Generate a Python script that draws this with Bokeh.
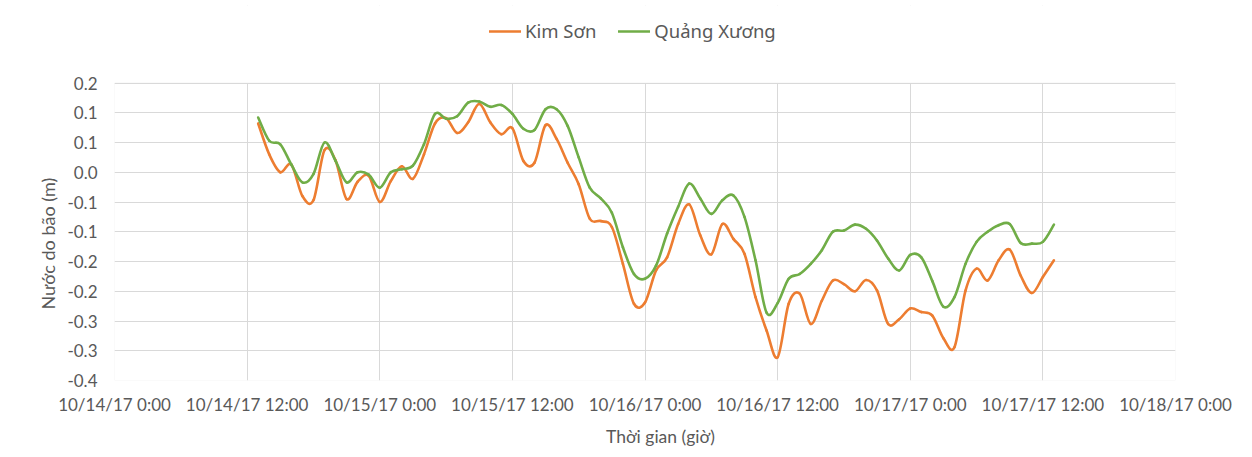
import numpy as np
import pandas as pd
from bokeh.plotting import figure
from bokeh.models import (FixedTicker, Legend, LegendItem, ColumnDataSource, Range1d,
                          BoxAnnotation)
from bokeh.embed import file_html
from bokeh.resources import INLINE

# ---------------- data (hourly) ----------------
times = pd.date_range("2017-10-14 13:00", periods=73, freq="h")

kim_son = [
    0.082, 0.030, 0.000, 0.013, -0.040, -0.047, 0.037, 0.020, -0.045, -0.016,
    -0.006, -0.050, -0.015, 0.010, -0.011, 0.030, 0.082, 0.091, 0.066, 0.084,
    0.115, 0.084, 0.064, 0.074, 0.019, 0.016, 0.079, 0.056, 0.016, -0.020,
    -0.078, -0.082, -0.092, -0.154, -0.221, -0.219, -0.165, -0.143, -0.087, -0.054,
    -0.106, -0.138, -0.087, -0.112, -0.137, -0.210, -0.266, -0.311, -0.221, -0.204,
    -0.255, -0.216, -0.182, -0.188, -0.200, -0.181, -0.199, -0.255, -0.247, -0.229,
    -0.235, -0.241, -0.279, -0.294, -0.199, -0.162, -0.182, -0.148, -0.130, -0.174,
    -0.203, -0.176, -0.148,
]

quang_xuong = [
    0.092, 0.053, 0.047, 0.013, -0.017, -0.003, 0.050, 0.019, -0.017, 0.000,
    -0.004, -0.026, 0.000, 0.005, 0.011, 0.047, 0.098, 0.090, 0.094, 0.117,
    0.119, 0.110, 0.113, 0.098, 0.073, 0.071, 0.106, 0.106, 0.078, 0.025,
    -0.026, -0.044, -0.068, -0.126, -0.171, -0.179, -0.157, -0.103, -0.058, -0.019,
    -0.044, -0.070, -0.047, -0.039, -0.075, -0.148, -0.236, -0.220, -0.179, -0.171,
    -0.154, -0.131, -0.100, -0.098, -0.088, -0.095, -0.115, -0.145, -0.165, -0.139,
    -0.143, -0.183, -0.226, -0.210, -0.154, -0.117, -0.100, -0.089, -0.087, -0.119,
    -0.120, -0.117, -0.088,
]

series_names = ["Kim Sơn", "Quảng Xương"]
series_colors = ["#ED7D31", "#70AD47"]

x_ticks = pd.date_range("2017-10-14 00:00", "2017-10-18 00:00", freq="12h")
x_tick_labels = [
    "10/14/17 0:00", "10/14/17 12:00", "10/15/17 0:00", "10/15/17 12:00",
    "10/16/17 0:00", "10/16/17 12:00", "10/17/17 0:00", "10/17/17 12:00",
    "10/18/17 0:00",
]
y_ticks = [0.15, 0.1, 0.05, 0.0, -0.05, -0.1, -0.15, -0.2, -0.25, -0.3, -0.35]
y_tick_labels = ["0.2", "0.1", "0.1", "0.0", "-0.1", "-0.1", "-0.2", "-0.2",
                 "-0.3", "-0.3", "-0.4"]

x_title = "Thời gian (giờ)"
y_title = "Nước do bão (m)"

# ---------------- helpers ----------------
def to_ms(ts):
    return np.array([t.timestamp() * 1000.0 for t in ts])


def smooth_segments(xs, ys):
    """Bezier segments through the data points (Excel-like smoothed line)."""
    xs = np.asarray(xs, float)
    ys = np.asarray(ys, float)
    n = len(xs)
    xp = np.concatenate([[xs[0]], xs, [xs[-1]]])
    yp = np.concatenate([[ys[0]], ys, [ys[-1]]])
    i = np.arange(n - 1)
    return dict(
        x0=xs[:-1], y0=ys[:-1], x1=xs[1:], y1=ys[1:],
        cx0=xp[i + 1] + (xp[i + 2] - xp[i]) / 6.0,
        cy0=yp[i + 1] + (yp[i + 2] - yp[i]) / 6.0,
        cx1=xp[i + 2] - (xp[i + 3] - xp[i + 1]) / 6.0,
        cy1=yp[i + 2] - (yp[i + 3] - yp[i + 1]) / 6.0,
    )


FONT = "Lato"
LEG_FONT = "Noto Sans"
TXT = "#595959"
GRID = "#D9D9D9"

# layout (pixels)
W, H = 1244, 449
TOP, LEFT, RIGHT = 5, 114, 69
PLOT_H = 297.5            # height of the value area (-0.35 .. 0.15)
FRAME_H = 375             # frame extends above the value area to hold the legend
BOTTOM = H - TOP - FRAME_H

xt_ms = to_ms(x_ticks)
t_ms = to_ms(times)

y_lo, y_hi = y_ticks[-1], y_ticks[0]
y_top = y_lo + (y_hi - y_lo) * FRAME_H / PLOT_H

p = figure(
    width=W, height=H,
    x_axis_type="datetime",
    x_range=Range1d(xt_ms[0], xt_ms[-1]),
    y_range=Range1d(y_lo, y_top),
    output_backend="svg", toolbar_location=None,
    min_border_left=LEFT, min_border_right=RIGHT,
    min_border_top=TOP, min_border_bottom=BOTTOM,
    background_fill_color="white", border_fill_color="white",
)
p.outline_line_color = None

# axes
p.xaxis.ticker = FixedTicker(ticks=list(xt_ms))
p.xaxis.major_label_overrides = {float(k): v for k, v in zip(xt_ms, x_tick_labels)}
p.yaxis.ticker = FixedTicker(ticks=y_ticks)
p.yaxis.major_label_overrides = {float(k): v for k, v in zip(y_ticks, y_tick_labels)}

for ax in (p.xaxis[0], p.yaxis[0]):
    ax.axis_line_color = None
    ax.major_tick_line_color = None
    ax.minor_tick_line_color = None
    ax.major_tick_out = 0
    ax.major_tick_in = 0
    ax.minor_tick_out = 0
    ax.minor_tick_in = 0
    ax.major_label_text_font = FONT
    ax.major_label_text_font_size = "17px"
    ax.major_label_text_color = TXT
    ax.axis_label_text_font = FONT
    ax.axis_label_text_font_style = "normal"
    ax.axis_label_text_color = TXT

p.xaxis.major_label_standoff = 13
# leading no-break spaces move the title slightly right, as in the original
p.xaxis.axis_label = "\u00a0" * 7 + x_title
p.xaxis.axis_label_text_font_size = "17.5px"
p.xaxis.axis_label_standoff = 8

p.yaxis.major_label_standoff = 17
# trailing no-break spaces move the rotated title down to the centre of the value area
p.yaxis.axis_label = y_title + "\u00a0" * 22
p.yaxis.axis_label_text_font_size = "18px"
p.yaxis.axis_label_standoff = 5

p.xgrid.grid_line_color = GRID
p.ygrid.grid_line_color = GRID
p.xgrid.grid_line_width = 1
p.ygrid.grid_line_width = 1

# series
renderers = []
for vals, color in zip([kim_son, quang_xuong], series_colors):
    src = ColumnDataSource(smooth_segments(t_ms, vals))
    r = p.bezier(x0="x0", y0="y0", x1="x1", y1="y1",
                 cx0="cx0", cy0="cy0", cx1="cx1", cy1="cy1",
                 source=src, line_color=color, line_width=2.6,
                 line_cap="round", line_join="round")
    renderers.append(r)

# white area above the value range (holds the legend), then the plot-area border
p.add_layout(BoxAnnotation(bottom=y_hi, fill_color="white", fill_alpha=1.0,
                           line_alpha=0, level="annotation"))
p.add_layout(BoxAnnotation(bottom=y_lo, top=y_hi, left=xt_ms[0], right=xt_ms[-1],
                           fill_alpha=0, line_color=GRID, line_width=1,
                           level="annotation"))

legend = Legend(
    items=[LegendItem(label=name, renderers=[r]) for name, r in zip(series_names, renderers)],
    orientation="horizontal",
    location=(375, 337),
    border_line_color=None,
    background_fill_alpha=0,
    padding=0, margin=0, spacing=22,
    label_standoff=4, glyph_width=32, glyph_height=18,
    label_text_font=LEG_FONT, label_text_font_size="18.5px", label_text_color=TXT,
)
p.add_layout(legend)

open("out.html", "w").write(file_html(p, INLINE))
